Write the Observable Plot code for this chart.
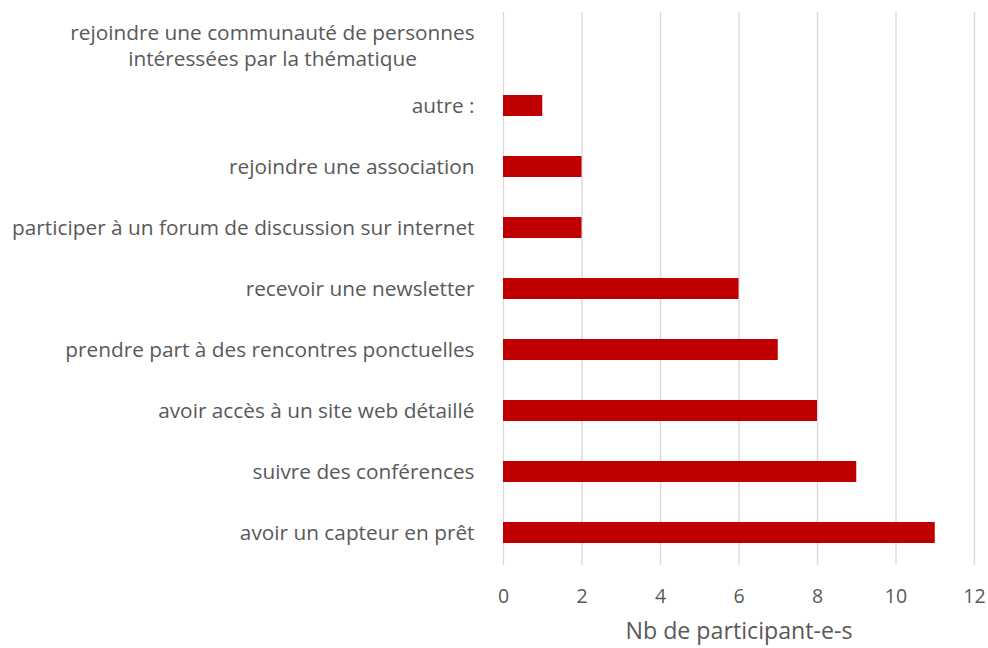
<!DOCTYPE html>
<html><head><meta charset="utf-8">
<script src="https://cdn.jsdelivr.net/npm/d3@7"></script>
<script src="https://cdn.jsdelivr.net/npm/@observablehq/plot@0.6"></script>
<style>
html,body{margin:0;padding:0;background:#fff;}
</style>
</head><body><div id="chart"></div>
<script>
const categories = [
  "rejoindre une communauté de personnes\nintéressées par la thématique",
  "autre :",
  "rejoindre une association",
  "participer à un forum de discussion sur internet",
  "recevoir une newsletter",
  "prendre part à des rencontres ponctuelles",
  "avoir accès à un site web détaillé",
  "suivre des conférences",
  "avoir un capteur en prêt"
];
const values = [0, 1, 2, 2, 6, 7, 8, 9, 11];
const xTicks = [0, 2, 4, 6, 8, 10, 12];
const xTitle = "Nb de participant-e-s";

const data = categories.map((c, i) => ({category: c, value: values[i]}));
const wrapped = categories.filter(c => c.includes("\n"));
const single = categories.filter(c => !c.includes("\n"));

const font = "'Open Sans', Lato, sans-serif";
const textColor = "#595959";

const chart = Plot.plot({
  width: 988,
  height: 648,
  marginLeft: 503,
  marginRight: 14,
  marginTop: 12,
  marginBottom: 83,
  style: {fontFamily: font, fontSize: "20.8px", color: textColor, background: "#fff"},
  x: {domain: [0, 12], ticks: xTicks, label: null},
  y: {domain: categories, paddingInner: 0.66, paddingOuter: 0.33, label: null},
  marks: [
    Plot.ruleX(xTicks, {x: d => d, stroke: "#d9d9d9", strokeWidth: 1.3}),
    Plot.barX(data, {y: "category", x: "value", fill: "#c00000"}),
    Plot.axisX({ticks: xTicks, tickSize: 0, tickPadding: 24, fill: textColor, fontSize: 19.5, label: null}),
    Plot.axisY({ticks: single, tickSize: 0, tickPadding: 29, fill: textColor, fontSize: 20.8, label: null}),
    Plot.text(wrapped, {y: d => d, x: 0, text: d => d, textAnchor: "middle", dx: -231, lineHeight: 1.25, fill: textColor, fontSize: 20.8}),
    Plot.text([xTitle], {frameAnchor: "bottom", dy: 73, text: d => d, fill: textColor, fontSize: 23.2})
  ]
});
document.getElementById("chart").appendChild(chart);
</script>
</body></html>
